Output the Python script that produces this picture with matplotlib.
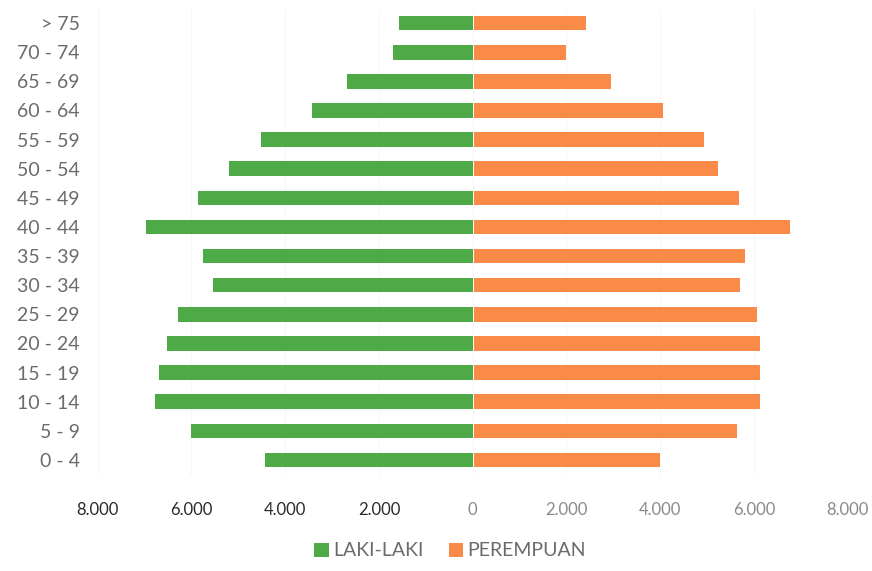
import numpy as np
import matplotlib
matplotlib.use("Agg")
import matplotlib.pyplot as plt

# ==== DATA ====
age_groups = ["0 - 4", "5 - 9", "10 - 14", "15 - 19", "20 - 24", "25 - 29", "30 - 34",
              "35 - 39", "40 - 44", "45 - 49", "50 - 54", "55 - 59", "60 - 64",
              "65 - 69", "70 - 74", "> 75"]
laki_laki = [4430, 6010, 6770, 6700, 6530, 6290, 5540, 5750, 6960, 5860, 5190, 4520,
             3420, 2680, 1690, 1580]
perempuan = [3960, 5620, 6110, 6110, 6110, 6040, 5680, 5790, 6740, 5660, 5200, 4900,
             4040, 2930, 1960, 2380]
xticks = [-8000, -6000, -4000, -2000, 0, 2000, 4000, 6000, 8000]
xtick_labels = ["8.000", "6.000", "4.000", "2.000", "0", "2.000", "4.000", "6.000", "8.000"]

green = "#4DAA46"
orange = "#FA8A48"

plt.rcParams["font.family"] = ["Lato", "DejaVu Sans"]

fig = plt.figure(figsize=(8.72, 5.71), dpi=100)
ax = fig.add_axes([0.112, 0.169, 0.86, 0.816])

y = np.arange(len(age_groups))
ax.barh(y, [-v for v in laki_laki], height=0.5, color=green, label="LAKI-LAKI")
ax.barh(y, perempuan, height=0.5, color=orange, label="PEREMPUAN", left=30)

ax.set_xlim(-8000, 8000)
ax.set_ylim(-0.5, len(age_groups) - 0.5)
ax.set_yticks(y)
ax.set_yticklabels(age_groups, fontsize=14, color="#6b6b6b")
ax.set_xticks(xticks)
ax.set_xticklabels(xtick_labels, fontsize=12)
for i, lab in enumerate(ax.get_xticklabels()):
    lab.set_color("#2a2a2a" if i < 4 else "#8a8a8a")
ax.tick_params(axis="x", length=0, pad=20)
ax.tick_params(axis="y", length=0, pad=13)

ax.grid(axis="x", color="#f7f7f7", linewidth=0.8)
ax.set_axisbelow(True)
for s in ax.spines.values():
    s.set_visible(False)

fig.legend(loc="center", bbox_to_anchor=(0.516, 1 - 551 / 571), ncol=2, frameon=False,
           fontsize=14, handlelength=0.75, handleheight=0.75, handletextpad=0.2,
           columnspacing=1.3, labelcolor="#6b6b6b")

fig.savefig("out.png", dpi=100)
plt.close()
